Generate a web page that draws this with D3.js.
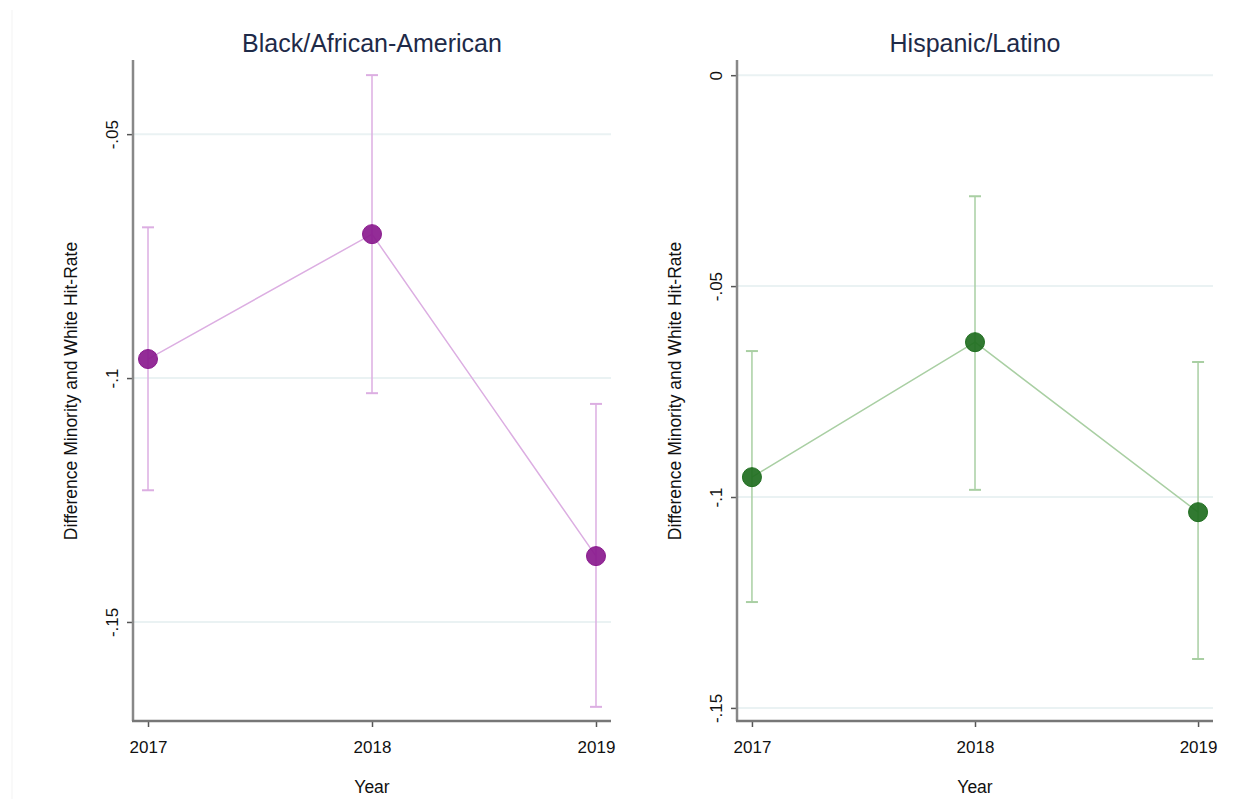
<!DOCTYPE html>
<html>
<head>
<meta charset="utf-8">
<script src="https://cdn.jsdelivr.net/npm/d3@7"></script>
<style>
  body { margin: 0; background: #fff; }
  svg { font-family: "Liberation Sans", Arial, sans-serif; }
</style>
</head>
<body>
<svg id="chart" width="1248" height="799"></svg>
<script>
// years on the x axis
var years = [2017, 2018, 2019];

// Black/African-American: point estimate and 95% CI
var blackEst = [-0.0961, -0.0705, -0.1365];
var blackLo = [-0.1230, -0.1031, -0.1674];
var blackHi = [-0.0691, -0.0379, -0.1053];
var blackTicks = [-0.05, -0.1, -0.15];

// Hispanic/Latino
var hispEst = [-0.0953, -0.0633, -0.1036];
var hispLo = [-0.1249, -0.0983, -0.1384];
var hispHi = [-0.0654, -0.0287, -0.0680];
var hispTicks = [0, -0.05, -0.1, -0.15];

var svg = d3.select('#chart');

// faint frame line at the far left, as in the exported graph
svg.append('line')
    .attr('x1', 12).attr('x2', 12)
    .attr('y1', 10).attr('y2', 799)
    .style('stroke', '#f3f3f3').style('stroke-width', 1);

// stata style labels: -.05, -.1, 0
function stataFmt(v) {
    if (v === 0) return '0';
    return String(+v.toFixed(3)).replace('0.', '.');
}

function panel(opts) {
    var top = 60, bottom = 721;
    var x = d3.scaleLinear()
        .domain([2016.933, 2019.067])
        .range([opts.left, opts.right]);
    var y = d3.scaleLinear()
        .domain(opts.yDomain)
        .range([bottom, top]);

    var g = svg.append('g');

    // light gridlines
    g.selectAll('.grid')
        .data(opts.ticks)
        .enter().append('line')
        .attr('x1', opts.left)
        .attr('x2', opts.right)
        .attr('y1', function(d) { return y(d); })
        .attr('y2', function(d) { return y(d); })
        .style('stroke', '#eaf2f3')
        .style('stroke-width', 2);

    // y axis
    var yAxis = d3.axisLeft(y)
        .tickValues(opts.ticks)
        .tickSize(6)
        .tickFormat(stataFmt);
    var ya = g.append('g')
        .attr('transform', 'translate(' + opts.left + ',0)')
        .call(yAxis);
    ya.select('.domain').remove();
    ya.selectAll('.tick line').style('stroke', '#555').style('stroke-width', 1.5);
    ya.selectAll('.tick text')
        .attr('x', 0).attr('dy', 0)
        .attr('transform', 'translate(-15,0) rotate(-90)')
        .style('text-anchor', 'middle')
        .style('font-size', '17px')
        .style('fill', '#111');

    // x axis
    var xAxis = d3.axisBottom(x)
        .tickValues(years)
        .tickSize(6)
        .tickFormat(d3.format('d'));
    var xa = g.append('g')
        .attr('transform', 'translate(0,' + bottom + ')')
        .call(xAxis);
    xa.select('.domain').remove();
    xa.selectAll('.tick line').style('stroke', '#555').style('stroke-width', 1.5);
    xa.selectAll('.tick text')
        .attr('y', 32).attr('dy', 0)
        .style('font-size', '17px')
        .style('fill', '#111');

    // axis lines (drawn over grid)
    g.append('line')
        .attr('x1', opts.left).attr('x2', opts.left)
        .attr('y1', top).attr('y2', bottom)
        .style('stroke', '#888').style('stroke-width', 2.5);
    g.append('line')
        .attr('x1', opts.left - 1).attr('x2', opts.right)
        .attr('y1', bottom).attr('y2', bottom)
        .style('stroke', '#777').style('stroke-width', 2.5);

    var pts = years.map(function(yr, i) {
        return { year: yr, est: opts.est[i], lo: opts.lo[i], hi: opts.hi[i] };
    });

    // error bars
    var bars = g.selectAll('.ci').data(pts).enter().append('g');
    bars.append('line')
        .attr('x1', function(d) { return x(d.year); })
        .attr('x2', function(d) { return x(d.year); })
        .attr('y1', function(d) { return y(d.lo); })
        .attr('y2', function(d) { return y(d.hi); })
        .style('stroke', opts.lineColour).style('stroke-width', 1.5);
    ['lo', 'hi'].forEach(function(k) {
        bars.append('line')
            .attr('x1', function(d) { return x(d.year) - 6; })
            .attr('x2', function(d) { return x(d.year) + 6; })
            .attr('y1', function(d) { return y(d[k]); })
            .attr('y2', function(d) { return y(d[k]); })
            .style('stroke', opts.lineColour).style('stroke-width', 2);
    });

    // connecting line
    var line = d3.line()
        .x(function(d) { return x(d.year); })
        .y(function(d) { return y(d.est); });
    g.append('path')
        .datum(pts)
        .attr('d', line)
        .style('fill', 'none')
        .style('stroke', opts.lineColour)
        .style('stroke-width', 1.5);

    // markers
    g.selectAll('.dot').data(pts).enter().append('circle')
        .attr('cx', function(d) { return x(d.year); })
        .attr('cy', function(d) { return y(d.est); })
        .attr('r', 9.5)
        .style('fill', opts.dotColour)
        .style('fill-opacity', 0.92)
        .style('stroke', opts.dotColour)
        .style('stroke-width', 1);

    var mid = (x(2017) + x(2019)) / 2;

    // title
    g.append('text')
        .attr('x', mid).attr('y', 52)
        .style('text-anchor', 'middle')
        .style('font-size', '25px')
        .style('fill', '#1e2a48')
        .text(opts.title);

    // axis titles
    g.append('text')
        .attr('x', mid).attr('y', 793)
        .style('text-anchor', 'middle')
        .style('font-size', '17.5px')
        .style('fill', '#111')
        .text('Year');

    g.append('text')
        .attr('transform', 'translate(' + (opts.left - 56) + ',' + 391 + ') rotate(-90)')
        .style('text-anchor', 'middle')
        .style('font-size', '17.5px')
        .style('fill', '#111')
        .text('Difference Minority and White Hit-Rate');
}

panel({
    title: 'Black/African-American',
    left: 133, right: 611,
    yDomain: [-0.1703, -0.0348],
    ticks: blackTicks,
    est: blackEst, lo: blackLo, hi: blackHi,
    dotColour: '#8a1a8e',
    lineColour: '#dcaee2'
});

panel({
    title: 'Hispanic/Latino',
    left: 737, right: 1213,
    yDomain: [-0.1531, 0.0036],
    ticks: hispTicks,
    est: hispEst, lo: hispLo, hi: hispHi,
    dotColour: '#1f6e1f',
    lineColour: '#a9cfa3'
});
</script>
</body>
</html>
